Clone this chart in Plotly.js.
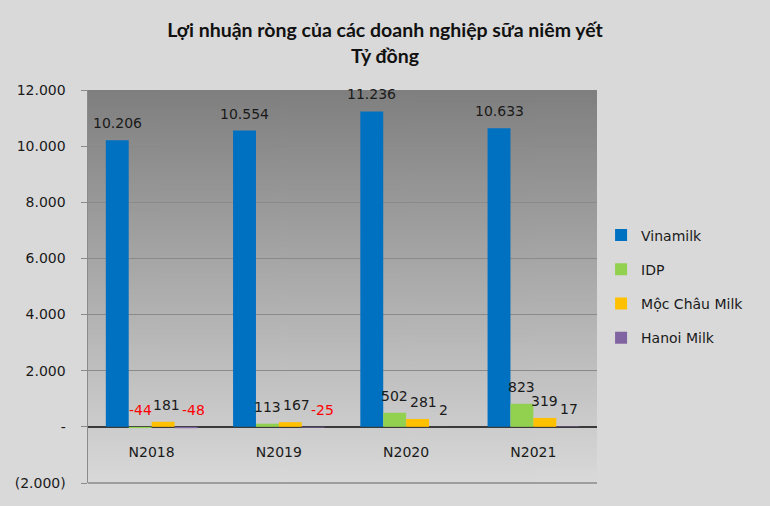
<!DOCTYPE html>
<html>
<head>
<meta charset="utf-8">
<script src="https://cdn.plot.ly/plotly-3.0.1.min.js"></script>
<style>
  html, body { margin: 0; padding: 0; background: #d9d9d9; }
  #chart { width: 770px; height: 506px; }
</style>
</head>
<body>
<div id="chart"></div>
<script>
// data (tỷ đồng)
const years = ['N2018', 'N2019', 'N2020', 'N2021'];
const vinamilk = [10206, 10554, 11236, 10633];
const idp = [-44, 113, 502, 823];
const mocChau = [181, 167, 281, 319];
const hanoiMilk = [-48, -25, 2, 17];

const seriesNames = ['Vinamilk', 'IDP', 'Mộc Châu Milk', 'Hanoi Milk'];
const seriesValues = [vinamilk, idp, mocChau, hanoiMilk];
const seriesColors = ['#0070c0', '#92d050', '#ffc000', '#8064a2'];

const yTickVals = [12000, 10000, 8000, 6000, 4000, 2000, 0, -2000];
const yTickText = ['12.000', '10.000', '8.000', '6.000', '4.000', '2.000', '-', '(2.000)'];

const W = 770, H = 506;
const margin = { l: 88, r: 173, t: 90, b: 23 };
const yRange = [-2000, 12000];
const bargap = 0.28;
const FONT = 'DejaVu Sans';

// vietnamese style thousands separator
function fmt(v) {
  const s = Math.abs(v).toString().replace(/\B(?=(\d{3})+(?!\d))/g, '.');
  return v < 0 ? '-' + s : s;
}

// plot background: vertical grey gradient
function gradientImage() {
  const c = document.createElement('canvas');
  c.width = 4; c.height = 256;
  const ctx = c.getContext('2d');
  const g = ctx.createLinearGradient(0, 0, 0, 256);
  g.addColorStop(0, '#7f7f7f');
  g.addColorStop(1, '#d9d9d9');
  ctx.fillStyle = g;
  ctx.fillRect(0, 0, 4, 256);
  return c.toDataURL();
}

const measureCtx = document.createElement('canvas').getContext('2d');
measureCtx.font = '14px "' + FONT + '"';
function textWidth(s) { return measureCtx.measureText(s).width; }

const plotW = W - margin.l - margin.r;
const plotH = H - margin.t - margin.b;
const barPx = plotW / years.length * (1 - bargap) / seriesNames.length;
const yPx = v => (yRange[1] - v) / (yRange[1] - yRange[0]) * plotH;

const traces = seriesNames.map((name, i) => ({
  type: 'bar',
  name: name,
  x: years,
  y: seriesValues[i],
  marker: { color: seriesColors[i], line: { width: 0 } },
  legendgroup: name,
  hoverinfo: 'x+y+name'
}));

// value labels, nudged right when they would collide with a neighbour
const annotations = [];
years.forEach((yr, j) => {
  const placed = [];
  seriesValues.forEach((vals, i) => {
    const v = vals[j];
    const text = fmt(v);
    const w = textWidth(text);
    let cx = (i - (seriesNames.length - 1) / 2) * barPx;
    const cy = yPx(Math.max(v, 0)) - 17;
    placed.forEach(p => {
      const left = cx - w / 2;
      if (Math.abs(p.cy - cy) < 14 && left < p.right + 1 && cx + w / 2 > p.left) {
        cx = p.right + 2 + w / 2;
      }
    });
    placed.push({ left: cx - w / 2, right: cx + w / 2, cy: cy });
    annotations.push({
      x: yr, y: Math.max(v, 0), xref: 'x', yref: 'y',
      text: text, showarrow: false,
      xshift: cx, yshift: 17, yanchor: 'middle',
      font: { family: FONT, size: 14, color: v < 0 ? '#ff0000' : '#1a1a1a' }
    });
  });
});

const layout = {
  width: W, height: H,
  margin: margin,
  paper_bgcolor: '#d9d9d9',
  plot_bgcolor: 'rgba(0,0,0,0)',
  font: { family: FONT, size: 14, color: '#1a1a1a' },
  title: {
    text: 'Lợi nhuận ròng của các doanh nghiệp sữa niêm yết<br>Tỷ đồng',
    font: { family: 'Lato', size: 19.5, weight: 'bold', color: '#111111' },
    xref: 'container', x: 0.5, xanchor: 'center',
    yref: 'container', y: 0.926, yanchor: 'top'
  },
  barmode: 'group',
  bargap: bargap,
  bargroupgap: 0,
  xaxis: {
    type: 'category',
    anchor: 'free',
    position: (0 - yRange[0]) / (yRange[1] - yRange[0]),
    showline: false, showgrid: false, zeroline: false,
    ticks: '', ticklabelstandoff: 15,
    tickfont: { family: FONT, size: 14, color: '#1a1a1a' }
  },
  yaxis: {
    range: yRange,
    tickvals: yTickVals, ticktext: yTickText,
    showgrid: true, gridcolor: '#8a8a8a', gridwidth: 1,
    zeroline: true, zerolinecolor: '#3a3a3a', zerolinewidth: 1.5,
    showline: true, linecolor: '#8a8a8a', linewidth: 1.5,
    ticks: 'outside', ticklen: 6, tickcolor: '#8a8a8a',
    ticklabelstandoff: 12,
    tickfont: { family: FONT, size: 14, color: '#1a1a1a' }
  },
  legend: {
    x: 1.008, xanchor: 'left', y: 0.5, yanchor: 'middle',
    bgcolor: 'rgba(0,0,0,0)',
    traceorder: 'grouped', tracegroupgap: 13,
    font: { family: FONT, size: 14, color: '#1a1a1a' }
  },
  images: [{
    source: gradientImage(),
    xref: 'paper', yref: 'paper', x: 0, y: 1, sizex: 1, sizey: 1,
    sizing: 'stretch', layer: 'below', xanchor: 'left', yanchor: 'top'
  }],
  shapes: [{
    type: 'line', xref: 'paper', yref: 'paper', x0: 0, x1: 1, y0: 0, y1: 0,
    line: { color: '#8a8a8a', width: 1.5 }
  }],
  annotations: annotations
};

Plotly.newPlot('chart', traces, layout, { displayModeBar: false, staticPlot: true });
</script>
</body>
</html>
